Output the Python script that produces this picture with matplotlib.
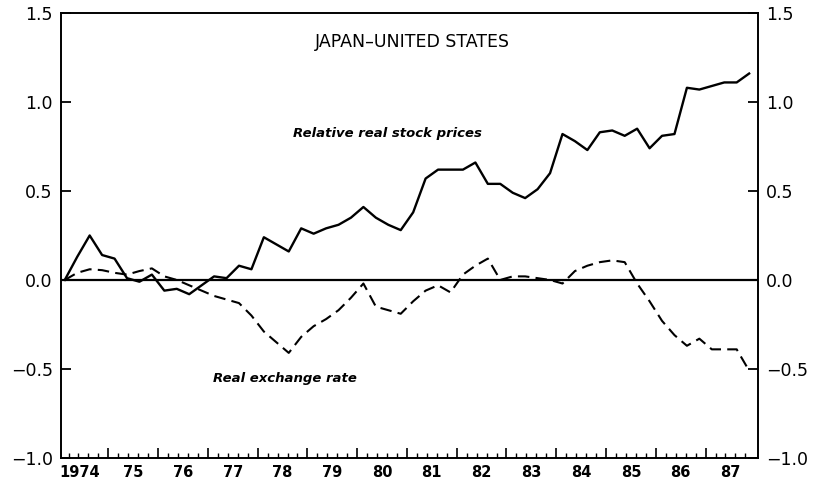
import numpy as np
import matplotlib
matplotlib.use('Agg')
import matplotlib.pyplot as plt
import matplotlib.transforms as mtransforms

# ------------------------------------------ data (quarterly, 1974Q1 - 1987Q4) ------------------------------------------
stock_prices = [0.00, 0.13, 0.25, 0.14, 0.12, 0.01, -0.01, 0.03, -0.06, -0.05, -0.08, -0.03, 0.02, 0.01,
                0.08, 0.06, 0.24, 0.20, 0.16, 0.29, 0.26, 0.29, 0.31, 0.35, 0.41, 0.35, 0.31, 0.28,
                0.38, 0.57, 0.62, 0.62, 0.62, 0.66, 0.54, 0.54, 0.49, 0.46, 0.51, 0.60, 0.82, 0.78,
                0.73, 0.83, 0.84, 0.81, 0.85, 0.74, 0.81, 0.82, 1.08, 1.07, 1.09, 1.11, 1.11, 1.16]
exchange_rate = [0.00, 0.04, 0.06, 0.055, 0.04, 0.03, 0.05, 0.065, 0.02, 0.00, -0.03, -0.06, -0.09, -0.11,
                 -0.13, -0.20, -0.29, -0.35, -0.41, -0.32, -0.26, -0.22, -0.17, -0.10, -0.02, -0.15, -0.17, -0.19,
                 -0.12, -0.06, -0.03, -0.07, 0.03, 0.08, 0.12, 0.00, 0.02, 0.02, 0.01, 0.00, -0.02, 0.05,
                 0.08, 0.10, 0.11, 0.10, -0.02, -0.12, -0.23, -0.31, -0.37, -0.33, -0.39, -0.39, -0.39, -0.51]
years = list(range(1974, 1988))
year_labels = ['1974', '75', '76', '77', '78', '79', '80', '81', '82', '83', '84', '85', '86', '87']
y_ticks = [-1.0, -0.5, 0.0, 0.5, 1.0, 1.5]

# quarter dates plotted at mid-quarter
quarters = 1974.125 + np.arange(len(stock_prices)) / 4.0

# ------------------------------------------ figure ------------------------------------------
fig = plt.figure(figsize=(8.14, 4.83), dpi=100)
ax = fig.add_axes([0.075, 0.052, 0.856, 0.921])

ax.axhline(0, color='black', linewidth=1.6)
ax.plot(quarters, stock_prices, color='black', linewidth=1.7)
dashed, = ax.plot(quarters, exchange_rate, color='black', linewidth=1.5)
dashed.set_dashes((5.5, 3))

ax.set_xlim(1974.05, 1988.05)
ax.set_ylim(-1.0, 1.5)

for side in ['left', 'right', 'top', 'bottom']:
    ax.spines[side].set_linewidth(1.4)

# ------------------------------------------ ticks ------------------------------------------
ax.set_yticks(y_ticks)
ax.set_yticklabels([('%.1f' % v).replace('-', '\u2212') for v in y_ticks])
ax.tick_params(axis='y', which='major', direction='in', length=7, width=1.3, pad=6,
               left=True, right=True, labelleft=True, labelright=True, labelsize=12.5)

major_x = years[1:]
minor_x = [y + k * 0.2 for y in years for k in range(1, 5) if 1974.05 < y + k * 0.2 < 1988.05]
ax.set_xticks(major_x)
ax.set_xticklabels([])
ax.set_xticks(minor_x, minor=True)
ax.tick_params(axis='x', which='major', direction='in', length=7, width=1.2)
ax.tick_params(axis='x', which='minor', direction='in', length=3.5, width=1.0)

# year labels centred inside each year
trans = mtransforms.blended_transform_factory(ax.transData, ax.transAxes)
for y, lab in zip(years, year_labels):
    x = y + 0.5 if y > 1974 else 1974.42
    ax.text(x, -0.015, lab, transform=trans, ha='center', va='top', fontsize=10.5, fontweight='semibold')

# ------------------------------------------ annotations ------------------------------------------
ax.text(1981.1, 1.335, 'JAPAN\u2013UNITED STATES', ha='center', va='center', fontsize=12.5)
ax.text(1980.6, 0.825, 'Relative real stock prices', ha='center', va='center',
        fontsize=9.5, fontweight='bold', style='italic')
ax.text(1978.55, -0.555, 'Real exchange rate', ha='center', va='center',
        fontsize=9.5, fontweight='bold', style='italic')

fig.savefig('out.png', dpi=100)
